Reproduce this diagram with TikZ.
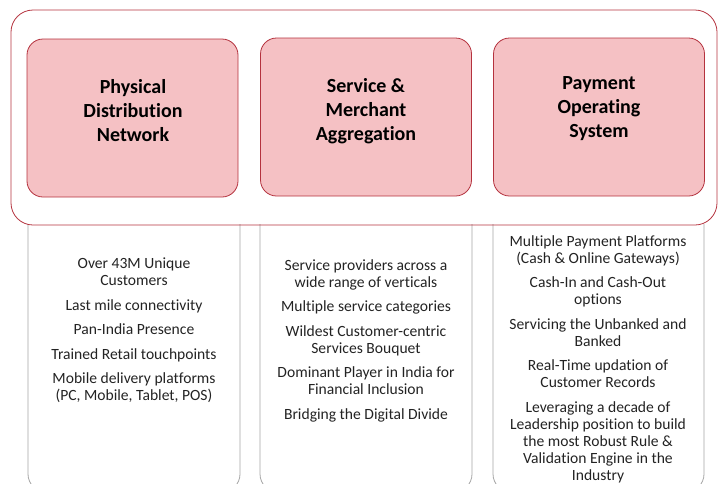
\documentclass[tikz,border=0pt]{standalone}
\usepackage{fontspec}
\setmainfont{Carlito}[Ligatures=NoCommon]
\definecolor{pinkfill}{RGB}{245,193,196}
\definecolor{darkred}{RGB}{180,50,62}
\definecolor{boxgray}{RGB}{165,165,165}
\definecolor{txt}{RGB}{35,35,35}
\tikzset{
  pinkbox/.style={draw=darkred, line width=0.8pt, fill=pinkfill, rounded corners=16pt,
    minimum width=211pt, minimum height=158pt, inner sep=0pt},
  titletext/.style={align=center, font=\fontsize{20}{24}\selectfont\bfseries, text=black, inner sep=0pt},
  bodytext/.style={align=center, font=\fontsize{15.6}{17}\selectfont, text=txt, inner sep=0pt, anchor=north},
  colbox/.style={draw=boxgray, line width=0.8pt, rounded corners=18pt},
  outer/.style={draw=darkred, line width=0.8pt, rounded corners=22pt}
}
\begin{document}
\begin{tikzpicture}[x=1pt,y=-1pt]
\useasboundingbox (0,0) rectangle (718,483);
\clip (0,0) rectangle (718,483);
% lower columns
\draw[colbox] (28,224) -- (28,492) -- (240,492) -- (240,224);
\draw[colbox] (260,224) -- (260,492) -- (472,492) -- (472,224);
\draw[colbox] (493,224) -- (493,492) -- (704,492) -- (704,224);
% outer frame
\node[outer, minimum width=706pt, minimum height=215pt, inner sep=0pt] (frame) at (364,117.5) {};
% pink boxes
\node[pinkbox] (p1) at (132.5,118) {};
\node[pinkbox] (p2) at (366,117) {};
\node[pinkbox] (p3) at (599,117) {};
\node[titletext] (t1) at (133,111) {Physical\\Distribution\\Network};
\node[titletext] (t2) at (366,111) {Service \&\\Merchant\\Aggregation};
\node[titletext] (t3) at (599,109) {Payment\\Operating\\System};
% body texts
\node[bodytext] (b1) at (134,258) {Over 43M Unique\\Customers\\[7.5pt]Last mile connectivity\\[7.5pt]Pan-India Presence\\[7.5pt]Trained Retail touchpoints\\[7.5pt]Mobile delivery platforms\\(PC, Mobile, Tablet, POS)};
\node[bodytext] (b2) at (366,259) {Service providers across a\\wide range of verticals\\[7.5pt]Multiple service categories\\[7.5pt]Wildest Customer-centric\\Services Bouquet\\[7.5pt]Dominant Player in India for\\Financial Inclusion\\[7.5pt]Bridging the Digital Divide};
\node[bodytext] (b3) at (598,235) {Multiple Payment Platforms\\(Cash \& Online Gateways)\\[7.5pt]Cash-In and Cash-Out\\options\\[7.5pt]Servicing the Unbanked and\\Banked\\[7.5pt]Real-Time updation of\\Customer Records\\[7.5pt]Leveraging a decade of\\Leadership position to build\\the most Robust Rule \&\\Validation Engine in the\\Industry};
\end{tikzpicture}
\end{document}
